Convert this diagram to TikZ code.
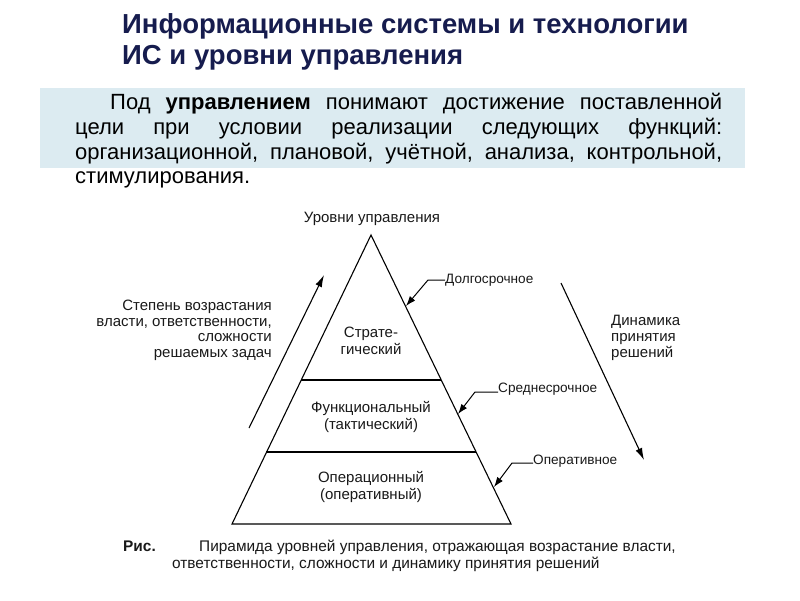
\documentclass[tikz,border=0pt]{standalone}
\usepackage{fontspec}
\setmainfont{Liberation Sans}
\usetikzlibrary{arrows.meta}
\definecolor{titleblue}{RGB}{22,28,78}
\definecolor{boxblue}{RGB}{220,235,241}
\definecolor{ink}{RGB}{25,25,25}
\tikzset{
  ttl/.style={anchor=base west,inner sep=0pt,text=titleblue,font=\fontsize{27.5}{32}\selectfont\bfseries},
  para/.style={anchor=base west,inner sep=0pt,text=black,font=\fontsize{22}{25}\selectfont},
  lbl/.style={inner sep=0pt,text=ink,font=\fontsize{15}{17}\selectfont,align=center},
  side/.style={inner sep=0pt,text=ink,font=\fontsize{15}{15.5}\selectfont},
  call/.style={anchor=west,inner sep=0pt,text=ink,font=\fontsize{13.6}{15}\selectfont},
  captxt/.style={anchor=base west,inner sep=0pt,text=ink,font=\fontsize{15.4}{17}\selectfont},
  pyr/.style={draw=black,line width=1.1pt,line join=miter},
  bigarrow/.style={draw=black,line width=1.1pt,-{Latex[length=12pt,width=7pt]}},
  lead/.style={draw=black,line width=1pt,-{Latex[length=10pt,width=7pt]}}
}
\begin{document}
\begin{tikzpicture}[x=1pt,y=-1pt]
\useasboundingbox (0,0) rectangle (800,600);
\fill[white] (0,0) rectangle (800,600);
% title
\node[ttl] (t1) at (122,33) {Информационные системы и технологии};
\node[ttl] (t2) at (122,64) {ИС и уровни управления};
% blue box
\fill[boxblue] (40,88) rectangle (745,168);
\node[para] (p1) at (110,109) {\makebox[612pt][s]{Под \textbf{управлением} понимают достижение поставленной}};
\node[para] (p2) at (75,134) {\makebox[647pt][s]{цели при условии реализации следующих функций:}};
\node[para] (p3) at (75,159) {\makebox[647pt][s]{организационной, плановой, учётной, анализа, контрольной,}};
\node[para] (p4) at (75,183) {стимулирования.};
% pyramid
\coordinate (apex) at (371,235);
\coordinate (bl) at (232,524);
\coordinate (br) at (511,524);
\coordinate (l1) at (301,380);
\coordinate (r1) at (441,380);
\coordinate (l2) at (266,452);
\coordinate (r2) at (476,452);
\draw[pyr] (apex) -- (br) -- (bl) -- cycle;
\draw[pyr] (l1) -- (r1);
\draw[pyr] (l2) -- (r2);
\node[lbl] (top) at (372,219) {Уровни управления};
\node[lbl] (s1) at (371,341) {Страте-\\[0pt]гический};
\node[lbl] (s2) at (371,417) {Функциональный\\[0pt](тактический)};
\node[lbl] (s3) at (371,487) {Операционный\\[0pt](оперативный)};
% left arrow and text
\coordinate (la0) at (249,428);
\coordinate (la1) at (324,275);
\draw[bigarrow] (la0) -- (la1);
\node[side,align=right,anchor=north east] (lt) at (272,300) {Степень возрастания\\власти, ответственности,\\сложности\\решаемых задач};
% right arrow and text
\coordinate (ra0) at (561,283);
\coordinate (ra1) at (644,460);
\draw[bigarrow] (ra0) -- (ra1);
\node[side,align=left,anchor=north west,font=\fontsize{15}{16}\selectfont] (rt) at (611,315) {Динамика\\принятия\\решений};
% callouts
\node[call] (c1) at (445,280) {Долгосрочное};
\coordinate (c1k) at (428,280);
\coordinate (c1t) at (406,306);
\draw[lead] (c1.west) -- (c1k) -- (c1t);
\node[call] (c2) at (498,389) {Среднесрочное};
\coordinate (c2k) at (475,392);
\coordinate (c2t) at (458,414);
\draw[lead] (c2.west |- c2k) -- (c2k) -- (c2t);
\node[call] (c3) at (533,461) {Оперативное};
\coordinate (c3k) at (512,463);
\coordinate (c3t) at (494,487);
\draw[lead] (c3.west |- c3k) -- (c3k) -- (c3t);
% caption
\node[captxt,font=\fontsize{15.4}{17}\selectfont\bfseries] (r) at (123,551) {Рис.};
\node[captxt] (cp1) at (199,551) {Пирамида уровней управления, отражающая возрастание власти,};
\node[captxt] (cp2) at (172,568) {ответственности, сложности и динамику принятия решений};
\end{tikzpicture}
\end{document}
